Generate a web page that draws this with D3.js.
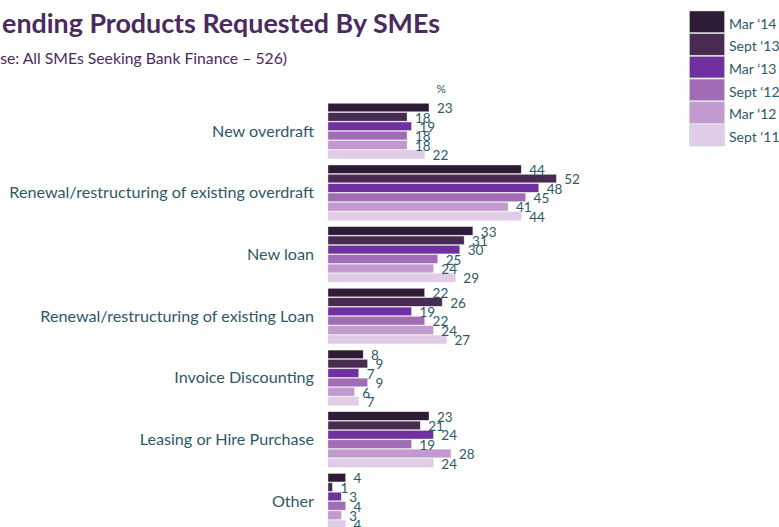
<!DOCTYPE html>
<html><head><meta charset="utf-8">
<script src="https://cdn.jsdelivr.net/npm/d3@7"></script>
<style>body{margin:0;background:#fff}svg{display:block}</style>
</head><body>
<script>
const categories = ["New overdraft","Renewal/restructuring of existing overdraft","New loan","Renewal/restructuring of existing Loan","Invoice Discounting","Leasing or Hire Purchase","Other"];
const seriesNames = ["Mar \u201814","Sept \u201813","Mar \u201813","Sept \u201812","Mar \u201812","Sept \u201811"];
const mar14  = [23,44,33,22,8,23,4];
const sept13 = [18,52,31,26,9,21,1];
const mar13  = [19,48,30,19,7,24,3];
const sept12 = [18,45,25,22,9,19,4];
const mar12  = [18,41,24,24,6,28,3];
const sept11 = [22,44,29,27,7,24,4];
const seriesValues = [mar14,sept13,mar13,sept12,mar12,sept11];
const colors = ["#2e1b36","#472b51","#7030a0","#a26bb6","#c39ad0","#e0cce7"];
const titleText = "ending Products Requested By SMEs";
const subtitleText = "se: All SMEs Seeking Bank Finance \u2013 526)";

const W=779,H=527;
const svg=d3.select("body").append("svg").attr("width",W).attr("height",H);
const FONT="Lato, 'Open Sans', sans-serif";
const TEAL="#2f5866";

function fitText(sel,targetW,startSize){
  let s=startSize; sel.attr("font-size",s);
  const w=sel.node().getComputedTextLength();
  s=s*targetW/w; sel.attr("font-size",s); return s;
}

// title
const t=svg.append("text").attr("x",440).attr("y",33).attr("text-anchor","end")
  .attr("font-family",FONT).attr("font-weight","bold").attr("fill","#4b2a5e").text(titleText);
fitText(t,438,26);
const st=svg.append("text").attr("x",287).attr("y",64).attr("text-anchor","end")
  .attr("font-family",FONT).attr("fill","#4b2a5e").text(subtitleText);
fitText(st,287,15);

svg.append("text").attr("x",441).attr("y",93).attr("text-anchor","middle")
  .attr("font-family",FONT).attr("font-size",12).attr("fill",TEAL).text("%");

// scales
const x=d3.scaleLinear().domain([0,60]).range([328,328+263.4]);
const step=61.7, pin=0.104;
const y0=d3.scaleBand().domain(categories).range([103.3,103.3+step*(categories.length-pin)]).paddingInner(pin).paddingOuter(0);
const y1=d3.scaleBand().domain(d3.range(seriesNames.length)).range([0,y0.bandwidth()]).paddingInner(0.1).paddingOuter(0);

// category labels
const cl=svg.append("g").selectAll("text").data(categories).join("text")
  .attr("x",314).attr("y",d=>y0(d)+y0.bandwidth()/2).attr("dy","0.35em")
  .attr("text-anchor","end").attr("font-family",FONT).attr("fill",TEAL).text(d=>d);
cl.attr("font-size",15);
const longest=d3.max(cl.nodes(),n=>n.getComputedTextLength());
cl.attr("font-size",15*305/longest);

const groups=svg.append("g").selectAll("g").data(categories).join("g")
  .attr("transform",d=>`translate(0,${y0(d)})`);
groups.each(function(cat,ci){
  const g=d3.select(this);
  const rows=seriesValues.map((vals,si)=>({si,v:vals[ci]}));
  g.selectAll("rect").data(rows).join("rect")
    .attr("x",x(0)).attr("y",d=>y1(d.si)).attr("width",d=>x(d.v)-x(0)).attr("height",y1.bandwidth())
    .attr("fill",d=>colors[d.si]).attr("stroke","#d9d9d9").attr("stroke-width",0.4);
  g.selectAll("text").data(rows).join("text")
    .attr("x",d=>x(d.v)+8).attr("y",d=>y1(d.si)+y1.bandwidth()+1.5)
    .attr("font-family",FONT).attr("font-size",13.5).attr("fill",TEAL).text(d=>d.v);
});

// legend
const lg=svg.append("g");
const lh=22.7;
seriesNames.forEach((n,i)=>{
  lg.append("rect").attr("x",689.5).attr("y",11+i*lh).attr("width",35).attr("height",lh-1.2)
    .attr("fill",colors[i]).attr("stroke","#d0d0d0").attr("stroke-width",0.5);
  lg.append("text").attr("x",729).attr("y",11+i*lh+17.5).attr("font-family",FONT)
    .attr("font-size",14).attr("fill",TEAL).text(n);
});
</script>
</body></html>
